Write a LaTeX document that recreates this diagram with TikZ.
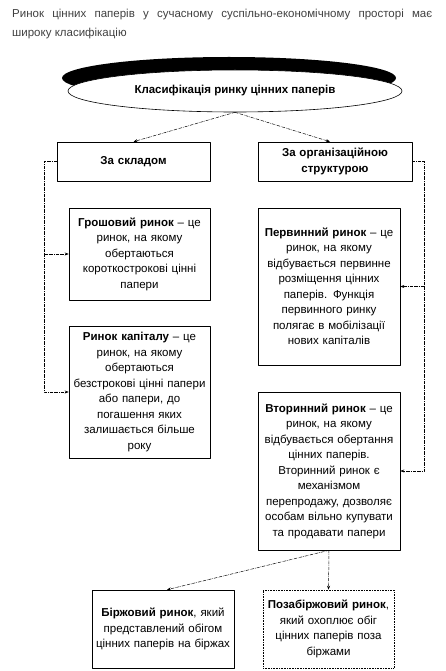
\documentclass[tikz,border=0pt]{standalone}
\usepackage{fontspec}
\setmainfont{Liberation Sans}
\usetikzlibrary{arrows.meta,shapes.geometric,shadows}
\begin{document}
\begin{tikzpicture}[x=1pt,y=-1pt,>={Stealth[length=4pt,width=3pt]},line join=round,font=\fontsize{11.5}{15.5}\selectfont,
	box/.style={draw,line width=0.6pt,align=center,inner xsep=2pt,inner ysep=0pt,text width=138pt,minimum width=142pt},
	head/.style={box,font=\fontsize{11.5}{15.5}\selectfont\bfseries,minimum height=39pt},
	link/.style={->,line width=0.5pt,densely dash dot}]
	\useasboundingbox (0,0) rectangle (446,671);
	\node[anchor=north west,inner sep=0pt,text width=420pt,align=justify,text=black!75,font=\fontsize{11.5}{19}\selectfont] (intro) at (12,9) {Ринок цінних паперів у сучасному суспільно-економічному просторі має\linebreak широку класифікацію};
	\node[draw,ellipse,fill=white,line width=0.6pt,minimum width=334pt,minimum height=42pt,font=\fontsize{11.5}{15.5}\selectfont\bfseries,drop shadow={shadow xshift=-6pt,shadow yshift=13pt,fill=black,opacity=1}] (title) at (235,91) {Класифікація ринку цінних паперів};
	\node[head,text width=149pt,minimum width=153pt] (sklad) at (133.5,161.5) {За складом};
	\node[head,text width=150pt,minimum width=154pt] (org) at (335,161.5) {За організаційною\\структурою};
	\node[box,minimum width=141pt,text width=137pt,minimum height=92pt] (hrosh) at (139.5,254) {\textbf{Грошовий ринок} – це\\ринок, на якому\\обертаються\\короткострокові цінні\\папери};
	\node[box,minimum width=141pt,text width=137pt,minimum height=132pt] (kapital) at (139.5,392) {\textbf{Ринок капіталу} – це\\ринок, на якому\\обертаються\\безстрокові цінні папери\\або папери, до\\погашення яких\\залишається більше\\року};
	\node[box,minimum height=157pt] (pervyn) at (329,286.5) {\textbf{Первинний ринок} – це\\ринок, на якому\\відбувається первинне\\розміщення цінних\\паперів. Функція\\первинного ринку\\полягає в мобілізації\\нових капіталів};
	\node[box,minimum height=158pt] (vtoryn) at (329,471) {\textbf{Вторинний ринок} – це\\ринок, на якому\\відбувається обертання\\цінних паперів.\\Вторинний ринок є\\механізмом\\перепродажу, дозволяє\\особам вільно купувати\\та продавати папери};
	\node[box,minimum height=78pt] (birzh) at (163,629) {\textbf{Біржовий ринок}, який\\представлений обігом\\цінних паперів на біржах};
	\node[box,densely dotted,text width=127pt,minimum width=131pt,minimum height=78pt] (pozabirzh) at (328.5,629) {\textbf{Позабіржовий ринок},\\який охоплює обіг\\цінних паперів поза\\біржами};
	\draw[link] (title.south) -- (sklad.north);
	\draw[link] (title.south) -- ([xshift=-5pt]org.north);
	\draw[link] (sklad.west) -- ++(-12,0) |- (hrosh.west);
	\draw[link] (sklad.west) -- ++(-12,0) |- (kapital.west);
	\draw[link] (org.east) -- ++(12,0) |- (pervyn.east);
	\draw[link] (org.east) -- ++(12,0) |- (vtoryn.east);
	\draw[link] (vtoryn.south) -- ([xshift=4pt]birzh.north);
	\draw[link] (vtoryn.south) -- (pozabirzh.north);
\end{tikzpicture}
\end{document}
